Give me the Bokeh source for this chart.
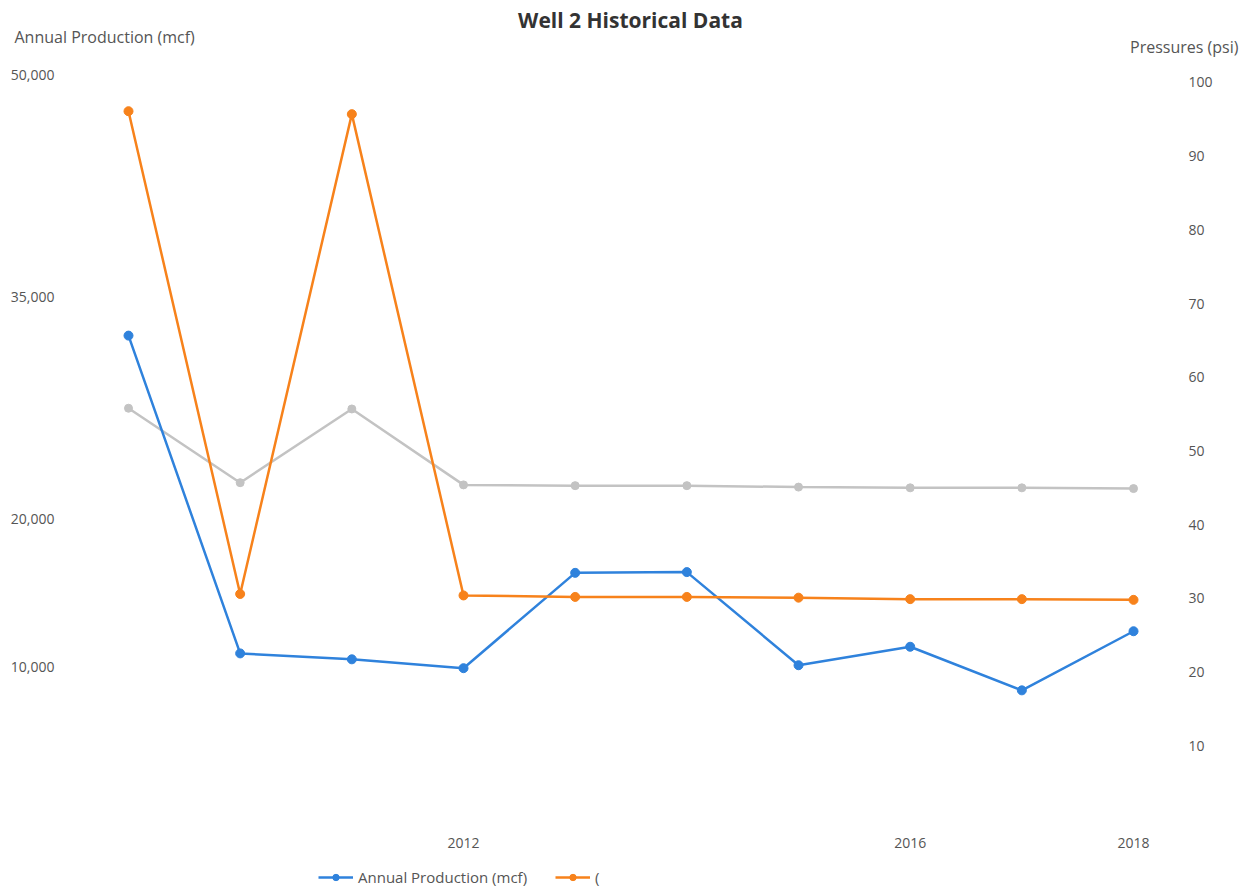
from bokeh.plotting import figure
from bokeh.layouts import column
from bokeh.models import (Range1d, LinearAxis, FixedTicker, Legend,
                          LegendItem, NumeralTickFormatter, Title)
from bokeh.embed import file_html
from bokeh.resources import INLINE

# Yearly well data
years = [2009, 2010, 2011, 2012, 2013, 2014, 2015, 2016, 2017, 2018]
annual_production = [32400, 10900, 10500, 9900, 16350, 16400, 10100, 11350, 8400, 12400]
pressure_a = [96.1, 30.6, 95.7, 30.4, 30.2, 30.2, 30.1, 29.9, 29.9, 29.8]
pressure_b = [55.8, 45.7, 55.7, 45.4, 45.3, 45.3, 45.1, 45.0, 45.0, 44.9]

left_ticks = [10000, 20000, 35000, 50000]
right_ticks = [10, 20, 30, 40, 50, 60, 70, 80, 90, 100]
x_ticks = [2012, 2016, 2018]

title_text = "Well 2 Historical Data"
left_name = "Annual Production (mcf)"
right_name = "Pressures (psi)"
series_a_name = "("

BLUE = "#2f82dc"
ORANGE = "#f7821b"
GRAY = "#c3c3c3"
TEXT = "#555555"
FONT = "Open Sans"

W = 1248
FOOT_H = 40
MAIN_H = 890 - FOOT_H
BL, BR, BT, BB = 100, 88, 50, 20
frame_w = W - BL - BR
frame_bottom = MAIN_H - BB          # page y of the frame's bottom edge

# x scale: 111.67 px per year, 2009 sits 28 px inside the frame
x0 = 2009 - 28 / 111.67
x1 = x0 + frame_w / 111.67

# left scale: 0 at y=815, 14.8 px per 1000 mcf
yl0 = -(frame_bottom - 815) / 14.8 * 1000
yl1 = (815 - BT) / 14.8 * 1000
# right scale: 0 at y=820, 7.38 px per psi
yr0 = -(frame_bottom - 820) / 7.38
yr1 = (820 - BT) / 7.38

p = figure(width=W, height=MAIN_H, output_backend="svg", toolbar_location=None,
           x_range=Range1d(x0, x1), y_range=Range1d(yl0, yl1),
           min_border_left=BL, min_border_right=BR,
           min_border_top=BT, min_border_bottom=BB,
           outline_line_color=None, title=None)
p.xgrid.visible = False
p.ygrid.visible = False
p.extra_y_ranges = {"psi": Range1d(yr0, yr1)}

# left axis (production)
ya = p.yaxis[0]
ya.ticker = FixedTicker(ticks=left_ticks)
ya.formatter = NumeralTickFormatter(format="0,0")
ya.axis_line_color = None
ya.major_tick_line_color = None
ya.minor_tick_line_color = None
ya.major_label_standoff = 40
ya.major_label_text_font = FONT
ya.major_label_text_font_size = "14px"
ya.major_label_text_color = TEXT

# right axis (pressures)
ra = LinearAxis(y_range_name="psi", ticker=FixedTicker(ticks=right_ticks))
ra.axis_line_color = None
ra.major_tick_line_color = None
ra.minor_tick_line_color = None
ra.major_label_standoff = 22
ra.major_label_text_font = FONT
ra.major_label_text_font_size = "14px"
ra.major_label_text_color = TEXT
p.add_layout(ra, "right")

# x axis
xa = p.xaxis[0]
xa.ticker = FixedTicker(ticks=x_ticks)
xa.axis_line_color = None
xa.major_tick_line_color = None
xa.minor_tick_line_color = None
xa.major_label_standoff = 2
xa.major_label_text_font = FONT
xa.major_label_text_font_size = "14px"
xa.major_label_text_color = TEXT

# series
p.line(years, pressure_b, y_range_name="psi", line_color=GRAY, line_width=2.5)
p.scatter(years, pressure_b, y_range_name="psi", size=8, color=GRAY)

p.line(years, annual_production, line_color=BLUE, line_width=2.5)
p.scatter(years, annual_production, size=9, color=BLUE)

p.line(years, pressure_a, y_range_name="psi", line_color=ORANGE, line_width=2.5)
p.scatter(years, pressure_a, y_range_name="psi", size=9, color=ORANGE)

# header rows (stacked upward from the frame): right axis name, left axis
# name, then the chart title on top
p.add_layout(Title(text=right_name, align="right", offset=-78, standoff=-14,
                   text_font=FONT, text_font_size="16px", text_color=TEXT,
                   text_font_style="normal"), "above")
p.add_layout(Title(text=left_name, align="left", offset=-86, standoff=-14,
                   text_font=FONT, text_font_size="16px", text_color=TEXT,
                   text_font_style="normal"), "above")
p.add_layout(Title(text=title_text, align="center", standoff=-6,
                   text_font=FONT, text_font_size="21px", text_font_style="bold",
                   text_color="#333333"), "above")

# ---- legend strip under the chart ----
# the sample renderers reuse the series data but sit outside this strip's
# visible range, so only their legend swatches show
foot = figure(width=W, height=FOOT_H, output_backend="svg", toolbar_location=None,
              x_range=Range1d(0, 1), y_range=Range1d(0, 1),
              x_axis_location=None, y_axis_location=None,
              min_border_left=BL, min_border_right=BR,
              min_border_top=0, min_border_bottom=0,
              outline_line_color=None, title=None)
foot.xgrid.visible = False
foot.ygrid.visible = False
kb_l = foot.line(years, annual_production, line_color=BLUE, line_width=2.5)
kb_s = foot.scatter(years, annual_production, size=9, color=BLUE)
ko_l = foot.line(years, pressure_a, line_color=ORANGE, line_width=2.5)
ko_s = foot.scatter(years, pressure_a, size=9, color=ORANGE)

legend = Legend(items=[LegendItem(label=left_name, renderers=[kb_l, kb_s]),
                       LegendItem(label=series_a_name, renderers=[ko_l, ko_s])],
                orientation="horizontal", location=(218, 3),
                border_line_color=None, background_fill_alpha=0,
                glyph_width=35, glyph_height=16, spacing=28,
                label_text_font=FONT, label_text_font_size="15px",
                label_text_color=TEXT, padding=4, margin=0)
foot.add_layout(legend, "center")

layout = column(p, foot, spacing=0)
open("out.html", "w").write(file_html(layout, INLINE))
